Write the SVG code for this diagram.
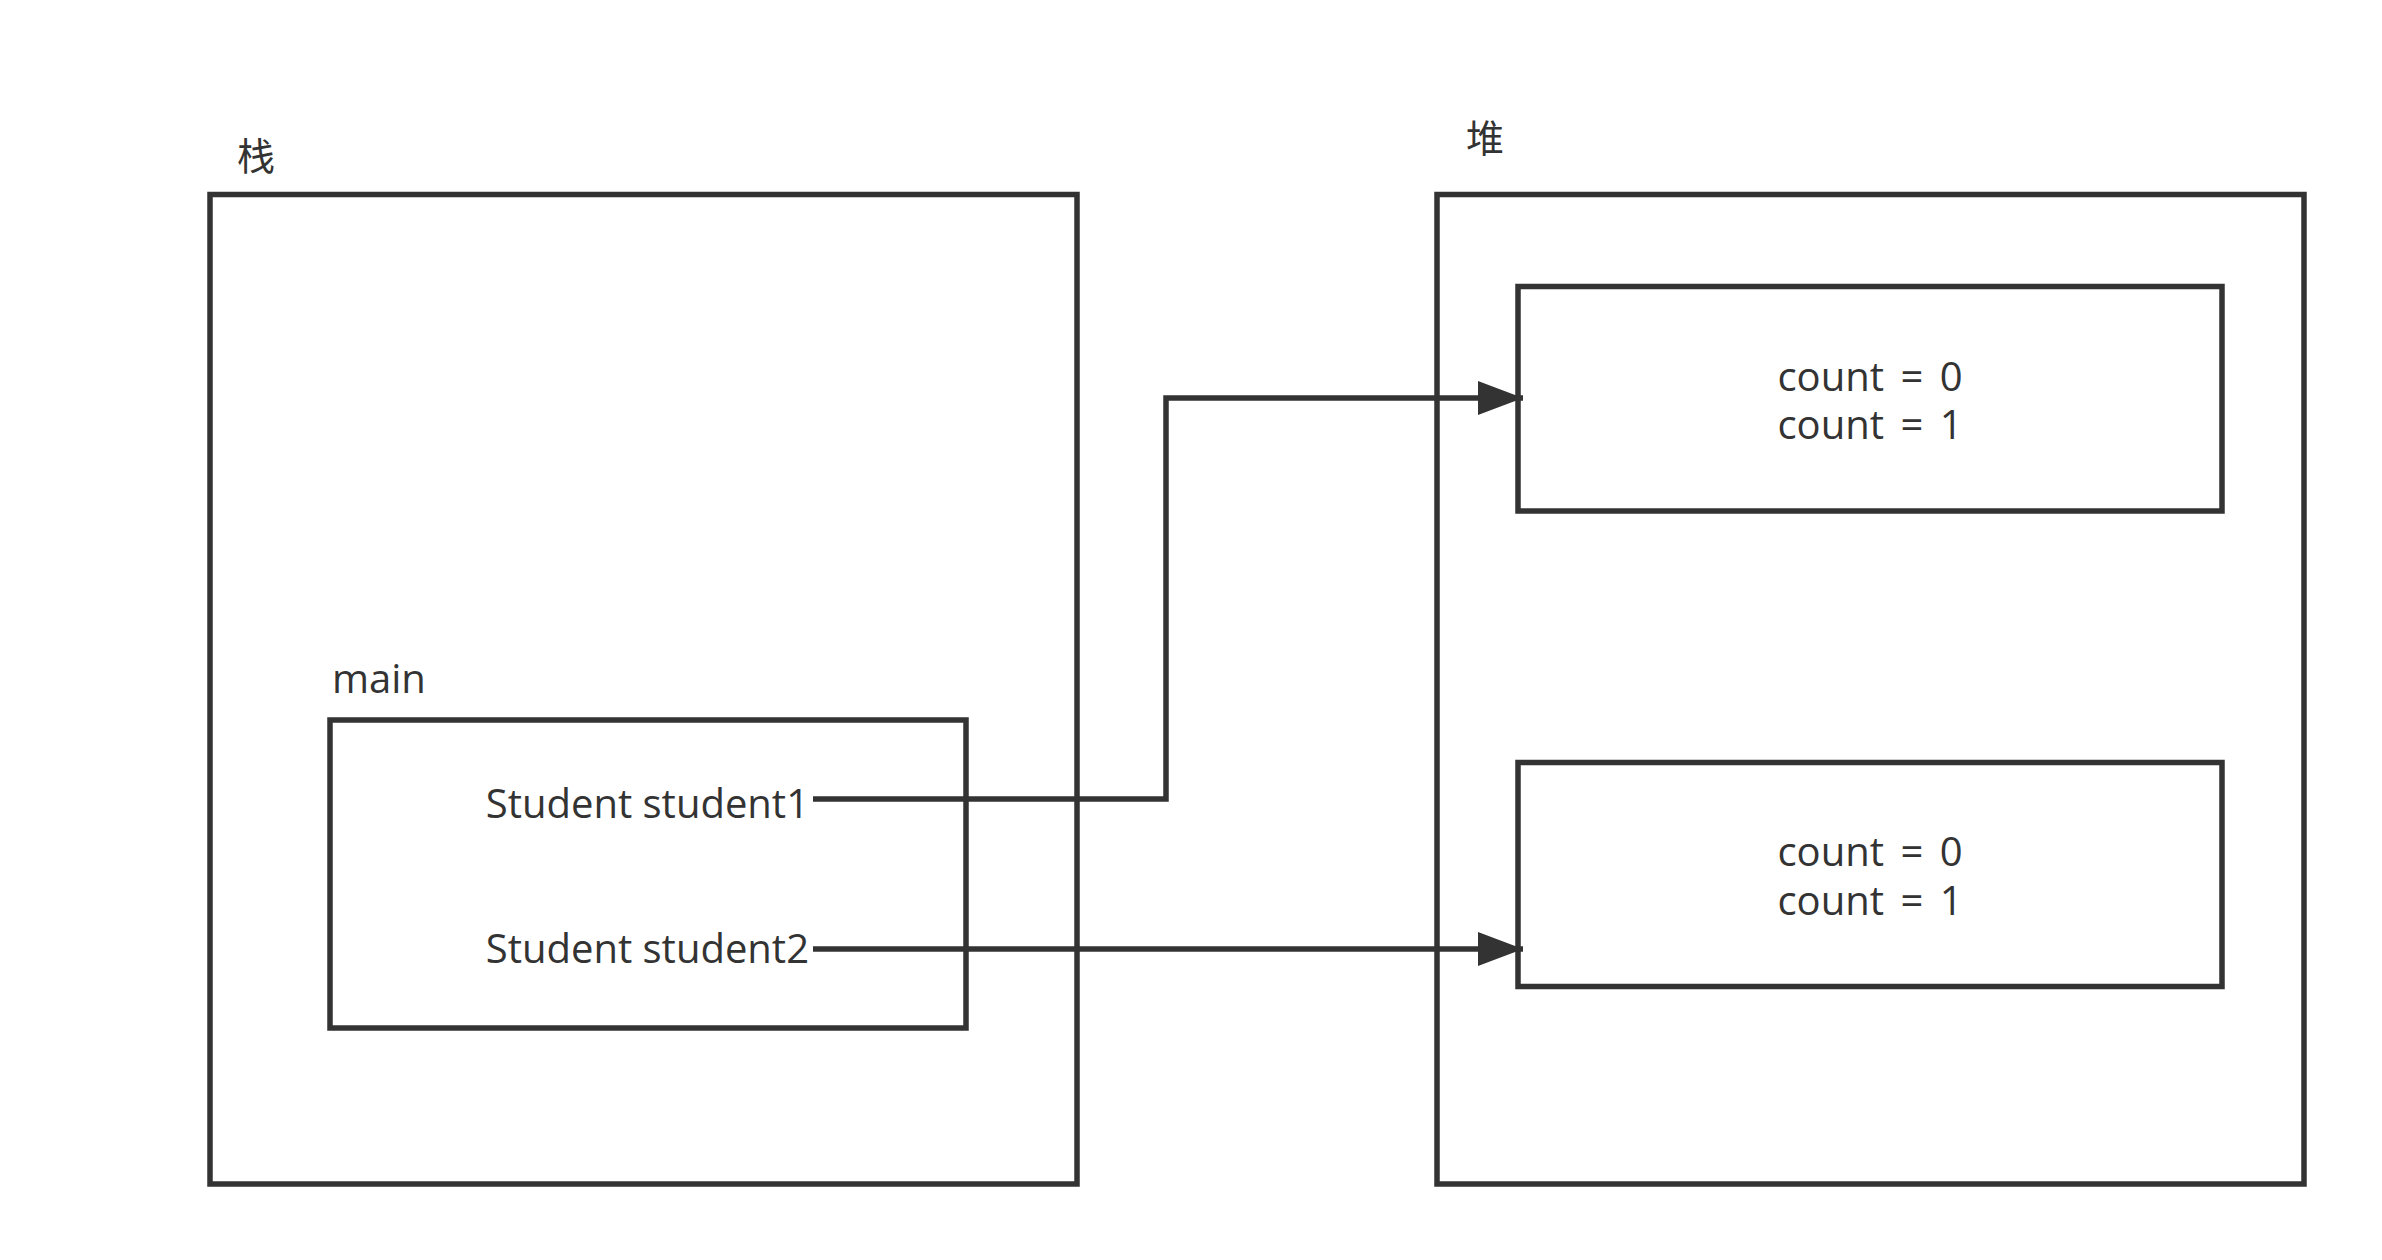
<svg xmlns="http://www.w3.org/2000/svg" width="2382" height="1260" viewBox="0 0 2382 1260">
  <style>
    .box { fill: none; stroke: #333333; stroke-width: 5.5; }
    .conn { fill: none; stroke: #333333; stroke-width: 5.5; }
    .t { font-family: "Open Sans", "Noto Sans CJK SC", sans-serif; font-size: 40px; fill: #333333; }
    .c { word-spacing: 6px; }
    .cjk { font-family: "Noto Sans CJK SC", sans-serif; font-size: 38px; fill: #333333; }
  </style>
  <defs>
    <marker id="arrow" viewBox="0 0 45 34" refX="45" refY="17" markerWidth="45" markerHeight="34" markerUnits="userSpaceOnUse" orient="auto">
      <path d="M0,0 L45,17 L0,34 Z" fill="#333333"/>
    </marker>
  </defs>
  <rect width="2382" height="1260" fill="#ffffff"/>

  <g id="stack">
    <rect class="box" x="210" y="194.5" width="867" height="989.5"/>
    <text class="cjk" x="237" y="170">栈</text>
  </g>

  <g id="heap">
    <rect class="box" x="1437" y="194.5" width="867" height="989.5"/>
    <text class="cjk" x="1466" y="152">堆</text>
  </g>

  <g id="main">
    <rect class="box" x="330" y="720" width="636" height="308"/>
    <text class="t" x="332" y="693">main</text>
    <text class="t" x="809" y="818" text-anchor="end">Student student1</text>
    <text class="t" x="809" y="963" text-anchor="end">Student student2</text>
  </g>

  <g id="object1">
    <rect class="box" x="1518" y="286.5" width="704" height="224.5"/>
    <text class="t c" text-anchor="middle"><tspan x="1870" y="391">count = 0</tspan><tspan x="1870" y="439">count = 1</tspan></text>
  </g>

  <g id="object2">
    <rect class="box" x="1518" y="762.5" width="704" height="224"/>
    <text class="t c" text-anchor="middle"><tspan x="1870" y="866">count = 0</tspan><tspan x="1870" y="915">count = 1</tspan></text>
  </g>

  <g id="connectors">
    <path class="conn" d="M813,799 L1166,799 L1166,398 L1523,398" marker-end="url(#arrow)"/>
    <path class="conn" d="M813,949 L1523,949" marker-end="url(#arrow)"/>
  </g>
</svg>
